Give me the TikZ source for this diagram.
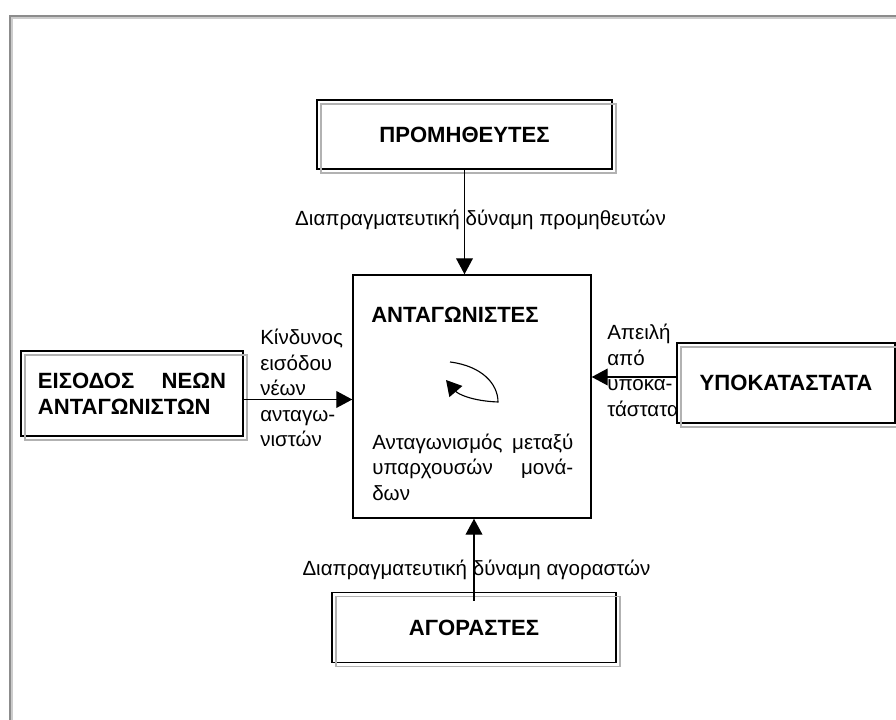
\documentclass[tikz,border=0pt]{standalone}
\usepackage{fontspec}
\setmainfont{Liberation Sans}
\usetikzlibrary{arrows.meta,positioning}

\begin{document}
\begin{tikzpicture}[x=0.025cm,y=-0.025cm,
    box/.style={draw,line width=1pt,fill=white,align=center,font=\fontsize{15.7}{18.4}\selectfont\bfseries,
        postaction={draw=gray!60,line width=0.8pt,fill=none,transform canvas={xshift=0.1cm,yshift=-0.1cm}}},
    flow/.style={-{Triangle[length=0.4cm,width=0.42cm]},line width=1pt},
    note/.style={font=\fontsize{14.6}{18.2}\selectfont,inner sep=0pt},
    heading/.style={font=\fontsize{15.7}{18.4}\selectfont\bfseries,inner sep=0pt}
]
\useasboundingbox (0,0) rectangle (896,720);
% outer frame
\draw[gray!90,line width=1.2pt] (10,720) |- (896,16);
\draw[gray!40,line width=1pt] (12,720) |- (896,18);

\node[note] (supplierpower) at (480.5,220) {Διαπραγματευτική δύναμη προμηθευτών};
\node[note] (buyerpower) at (476.5,570) {Διαπραγματευτική δύναμη αγοραστών};
\node[note,anchor=west,align=left] (entryrisk) at (260,388) {Κίνδυνος\\εισόδου\\νέων\\ανταγω-\\νιστών};
\node[note,anchor=west,align=left] (substthreat) at (607,370.5) {Απειλή\\από\\υποκα-\\τάστατα};

\node[box,minimum width=7.375cm,minimum height=1.725cm] (suppliers) at (464.5,134.5) {ΠΡΟΜΗΘΕΥΤΕΣ};
\node[box,minimum width=7.1cm,minimum height=1.75cm] (buyers) at (474,627.5) {ΑΓΟΡΑΣΤΕΣ};
\node[box,minimum width=5.55cm,minimum height=2.125cm,text width=4.7cm,align=left] (entrants) at (132,393.5) {ΕΙΣΟΔΟΣ\hfill ΝΕΩΝ\\ΑΝΤΑΓΩΝΙΣΤΩΝ};
\node[box,minimum width=5.45cm,minimum height=2cm] (substitutes) at (786,383) {ΥΠΟΚΑΤΑΣΤΑΤΑ};

\node[draw,line width=1pt,minimum width=5.95cm,minimum height=6.075cm] (rivals) at (472,396.5) {};
\node[heading,anchor=west] (rivalstitle) at (371,315) {ΑΝΤΑΓΩΝΙΣΤΕΣ};
\node[note,anchor=west,text width=5.025cm,align=left] (rivalstext) at (372,467) {Ανταγωνισμός\hfill μεταξύ\\υπαρχουσών\hfill μονά-\\δων};

\coordinate (entryend) at ([yshift=-0.15cm]entrants.east);
\coordinate (substend) at ([yshift=0.15cm]substitutes.west);
\draw[flow] (suppliers.south) -- (suppliers.south |- rivals.north);
\draw[flow] ([yshift=-0.225cm]buyers.north) -- (buyers.north |- rivals.south);
\draw[flow] (entryend) -- (rivals.west |- entryend);
\draw[flow] (substend) -- (rivals.east |- substend);
% rivalry loop
\draw[line width=0.8pt,-{Triangle[length=0.38cm,width=0.42cm]}] (450,362) .. controls (482,366) and (498,384) .. (498,402) .. controls (472,401) and (458,394) .. (446,380);
\end{tikzpicture}
\end{document}
